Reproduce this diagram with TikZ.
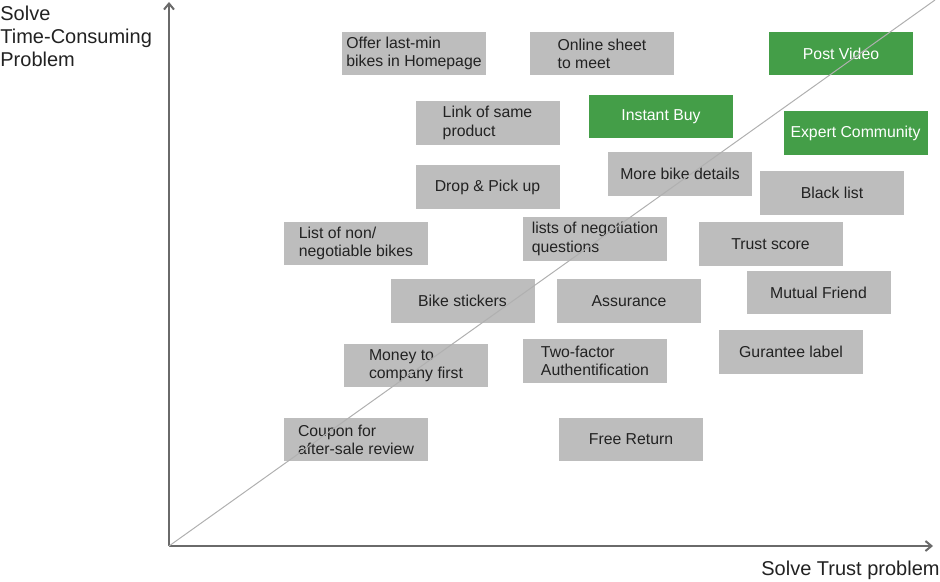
\documentclass[tikz,border=0pt]{standalone}
\usepackage{fontspec}
\setmainfont{Liberation Sans}
\usepackage{xcolor}
\usepackage{tikz}
\usetikzlibrary{arrows.meta}
\definecolor{boxgray}{HTML}{BDBDBD}
\definecolor{boxgreen}{HTML}{449E48}
\definecolor{axisgray}{HTML}{6A6A6A}
\definecolor{diaggray}{HTML}{B0B0B0}
\definecolor{textgray}{HTML}{222222}

\begin{document}
\begin{tikzpicture}[x=0.5pt, y=-0.5pt,
  idea/.style={fill=boxgray, text=textgray, minimum width=72pt, minimum height=21.75pt,
    align=left, inner sep=0pt, font=\fontsize{7.9}{9.1}\selectfont},
  chosen/.style={idea, fill=boxgreen, text=white},
  axislabel/.style={inner sep=0pt, align=left, text=textgray, font=\fontsize{10}{11.5}\selectfont}]
\useasboundingbox (0,0) rectangle (940,582);
% axes
\coordinate (origin) at (169,546);
\coordinate (ytop) at (169,2);
\coordinate (xend) at (933,546);
\coordinate (diagend) at (935,0);
\draw [axisgray, line width=1pt, -{Straight Barb[length=3pt,width=5pt]}] (origin) -- (ytop);
\draw [axisgray, line width=1pt, -{Straight Barb[length=3pt,width=5pt]}] (origin) -- (xend);
% top row
\node[idea] (lastmin) at (414,53.5) {Offer last-min\\bikes in Homepage};
\node[idea] (sheet) at (602,53.5) {Online sheet\\to meet};
\node[chosen] (video) at (841,53.5) {Post Video};
% second row
\node[idea] (samelink) at (487.5,123) {Link of same\\product};
\node[chosen] (instant) at (661,116.5) {Instant Buy};
\node[chosen] (expert) at (855.5,133) {Expert Community};
% third row
\node[idea] (dropup) at (487.5,187) {Drop \& Pick up};
\node[idea] (details) at (680,174) {More bike details};
\node[idea] (blacklist) at (832,193) {Black list};
% fourth row
\node[idea] (nonneg) at (356,243.5) {List of non/\\negotiable bikes};
\node[idea] (questions) at (595,239) {lists of negotiation\\questions};
\node[idea] (trust) at (770.5,244) {Trust score};
% fifth row
\node[idea] (stickers) at (462.5,301) {Bike stickers};
\node[idea] (assurance) at (629,301) {Assurance};
\node[idea] (mutual) at (818.5,292.5) {Mutual Friend};
% sixth row
\node[idea] (money) at (416,365.5) {Money to\\company first};
\node[idea] (twofactor) at (595,361) {Two-factor\\Authentification};
\node[idea] (guarantee) at (791,352) {Gurantee label};
% bottom row
\node[idea] (coupon) at (356,439.5) {Coupon for\\after-sale review};
\node[idea] (freereturn) at (631,439.5) {Free Return};
% diagonal
\draw [diaggray, line width=0.5pt] (origin) -- (diagend);
% axis labels
\node[axislabel, anchor=west] (ylabel) at (0,36) {Solve\\Time-Consuming\\Problem};
\node[axislabel, anchor=east] (xlabel) at (940,570) {Solve Trust problem};
\end{tikzpicture}
\end{document}
